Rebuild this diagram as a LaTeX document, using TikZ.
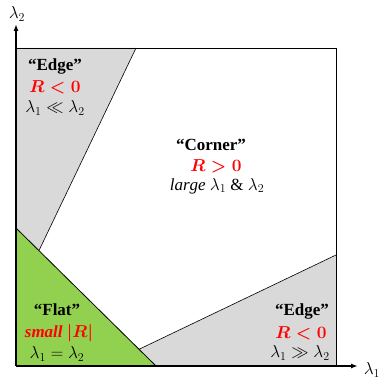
\documentclass[tikz,border=0pt]{standalone}
\usepackage{amsmath,amssymb}
\usepackage{fontspec}
\setmainfont{Liberation Serif}
\usetikzlibrary{arrows.meta}
\definecolor{flatgreen}{RGB}{146,208,80}
\definecolor{edgegrey}{RGB}{217,217,217}
\begin{document}
\begin{tikzpicture}[x=1pt,y=-1pt,
  lbl/.style={font=\fontsize{17}{19}\selectfont, inner sep=0pt, anchor=center},
  ttl/.style={lbl, font=\fontsize{17}{19}\selectfont\bfseries},
  red/.style={lbl, text=red, font=\fontsize{17}{19}\selectfont\boldmath},
  axis/.style={line width=1.4pt, -{Latex[length=7pt,width=5pt]}}]
\useasboundingbox (0,0) rectangle (381,379);
% regions
\fill[edgegrey] (16,48) -- (136,48) -- (39,250.5) -- (16,228) -- cycle;
\fill[edgegrey] (139,349.3) -- (336,255) -- (336,366) -- (156,366) -- cycle;
\fill[flatgreen] (16,228) -- (156,366) -- (16,366) -- cycle;
\draw[line width=0.6pt] (136,48) -- (39,250.5);
\draw[line width=0.6pt] (139,349.3) -- (336,255);
\draw[line width=0.8pt] (16,228) -- (156,366);
\draw[line width=0.8pt] (16,48) rectangle (336,366);
% axes
\coordinate (o) at (16,366);
\coordinate (xe) at (358,366);
\coordinate (ye) at (16,24);
\draw[axis] (o) -- (xe);
\draw[axis] (o) -- (ye);
\node[lbl] (l1) at (372,370) {$\lambda_1$};
\node[lbl] (l2) at (17,14) {$\lambda_2$};
% texts
\node[ttl] (e1t) at (55,66) {“Edge”};
\node[red] (e1r) at (55,87) {$R<0$};
\node[lbl] (e1l) at (55,108) {$\lambda_1 \ll \lambda_2$};
\node[ttl] (ct) at (211,145) {“Corner”};
\node[red] (cr) at (216,166) {$R>0$};
\node[lbl] (cl) at (217,186) {$\mathit{large}\ \lambda_1\ \&\ \lambda_2$};
\node[ttl] (ft) at (57,310) {“Flat”};
\node[red] (fr) at (59,333) {$\mathit{small}\ |R|$};
\node[lbl] (fl) at (57,354) {$\lambda_1 = \lambda_2$};
\node[ttl] (e2t) at (302,311) {“Edge”};
\node[red] (e2r) at (301,333) {$R<0$};
\node[lbl] (e2l) at (300,353) {$\lambda_1 \gg \lambda_2$};
\end{tikzpicture}
\end{document}
